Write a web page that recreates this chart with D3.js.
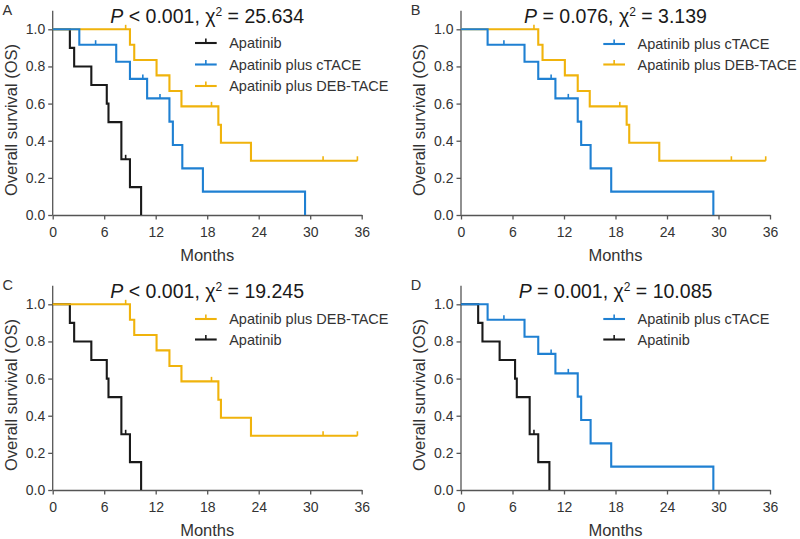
<!DOCTYPE html>
<html>
<head>
<meta charset="utf-8">
<script src="https://cdn.jsdelivr.net/npm/d3@7"></script>
<style>
  html, body { margin: 0; padding: 0; background: #fff; }
  svg { display: block; }
  text { font-family: "Liberation Sans", Arial, sans-serif; }
</style>
</head>
<body>
<svg id="chart" width="800" height="539"></svg>
<script>
// ---- Data ----
const xTicks = [0, 6, 12, 18, 24, 30, 36];
const yTicks = [0.0, 0.2, 0.4, 0.6, 0.8, 1.0];

const apatinibT = [0, 2.0, 2.5, 4.5, 6.3, 6.5, 8.0, 9.0, 10.3];
const apatinibS = [1.0, 0.9, 0.8, 0.7, 0.6, 0.5, 0.3, 0.15, 0.0];
const apatinibCensor = [8.5];

const ctaceT = [0, 3.1, 7.4, 9.0, 11.0, 13.6, 14.0, 15.1, 17.5, 29.4];
const ctaceS = [1.0, 0.917, 0.825, 0.733, 0.628, 0.503, 0.377, 0.251, 0.126, 0.0];
const ctaceCensor = [5.0, 10.5, 12.5];

const debT = [0, 9.0, 9.5, 12.1, 13.6, 15.0, 19.3, 19.6, 23.1, 35.5];
const debS = [1.0, 0.917, 0.835, 0.752, 0.668, 0.585, 0.486, 0.389, 0.292, 0.292];
const debCensor = [8.5, 18.5, 31.5, 35.5];

const seriesNames = ["Apatinib", "Apatinib plus cTACE", "Apatinib plus DEB-TACE"];
const panelLetters = ["A", "B", "C", "D"];
const panelP = ["< 0.001", "= 0.076", "< 0.001", "= 0.001"];
const panelChi = ["25.634", "3.139", "19.245", "10.085"];
const panelLegend = [[0, 1, 2], [1, 2], [2, 0], [1, 0]];

// ---- Build series ----
const colors = ["#1a1a1a", "#1f80d2", "#f0b30c"];
const series = [
  { name: seriesNames[0], t: apatinibT, s: apatinibS, c: apatinibCensor, color: colors[0] },
  { name: seriesNames[1], t: ctaceT, s: ctaceS, c: ctaceCensor, color: colors[1] },
  { name: seriesNames[2], t: debT, s: debS, c: debCensor, color: colors[2] }
];
function survAt(se, time) {
  let v = se.s[0];
  for (let i = 0; i < se.t.length; i++) if (se.t[i] <= time) v = se.s[i];
  return v;
}

const svg = d3.select("#chart");
const offsets = [[0, 0], [408.3, 0], [0, 275], [408.3, 275]];
const drawOrder = [0, 2, 1]; // black, yellow, blue on top

offsets.forEach((off, pi) => {
  const g = svg.append("g").attr("transform", `translate(${off[0]},${off[1]})`);
  const x = d3.scaleLinear().domain([0, 36]).range([52.7, 361.7]);
  const y = d3.scaleLinear().domain([0, 1]).range([215, 29.3]);

  // axes
  const xAxis = d3.axisBottom(x).tickValues(xTicks).tickSize(4.5).tickPadding(7.5).tickSizeOuter(0)
    .tickFormat(d3.format("d"));
  const yAxis = d3.axisLeft(y).tickValues(yTicks).tickSize(4.5).tickPadding(3).tickSizeOuter(0)
    .tickFormat(d3.format(".1f"));
  const gx = g.append("g").attr("transform", `translate(0,${y(0)})`).call(xAxis);
  const gy = g.append("g").attr("transform", `translate(${x(0)},0)`).call(yAxis);
  gy.select(".domain").attr("d", `M0,${y(1.1)}V${y(0)}`);
  [gx, gy].forEach(a => {
    a.selectAll(".domain, .tick line").attr("stroke", "#555").attr("stroke-width", 1.3);
    a.selectAll(".tick text").attr("fill", "#333").style("font-size", "14px")
      .style("font-family", "'Liberation Sans', Arial, sans-serif");
  });

  // axis titles
  g.append("text").attr("x", (x(0) + x(36)) / 2).attr("y", 260.5)
    .attr("text-anchor", "middle").attr("fill", "#333").style("font-size", "16.5px").text("Months");
  g.append("text").attr("transform", `translate(17,${120}) rotate(-90)`)
    .attr("text-anchor", "middle").attr("fill", "#333").style("font-size", "16.5px")
    .text("Overall survival (OS)");

  // panel letter
  g.append("text").attr("x", 2.5).attr("y", 15).attr("fill", "#333")
    .style("font-size", "14.5px").text(panelLetters[pi]);

  // title
  const tt = g.append("text").attr("x", (x(0) + x(36)) / 2).attr("y", 22.5)
    .attr("text-anchor", "middle").attr("fill", "#1a1a1a").style("font-size", "19.5px");
  tt.append("tspan").style("font-style", "italic").text("P");
  tt.append("tspan").text(" " + panelP[pi] + ", \u03C7");
  tt.append("tspan").attr("dy", -7).style("font-size", "12px").text("2");
  tt.append("tspan").attr("dy", 7).text(" = " + panelChi[pi]);

  // curves
  const present = panelLegend[pi];
  const line = d3.line().curve(d3.curveStepAfter).x(d => x(d[0])).y(d => y(d[1]));
  drawOrder.filter(k => present.includes(k)).forEach(k => {
    const se = series[k];
    const pts = se.t.map((t, i) => [t, se.s[i]]);
    g.append("path").attr("d", line(pts)).attr("fill", "none")
      .attr("stroke", se.color).attr("stroke-width", 2.1);
    g.selectAll(null).data(se.c).enter().append("line")
      .attr("x1", d => x(d)).attr("x2", d => x(d))
      .attr("y1", d => y(survAt(se, d))).attr("y2", d => y(survAt(se, d)) - 4.5)
      .attr("stroke", se.color).attr("stroke-width", 1.6);
  });

  // legend
  const rowsY = present.length === 3 ? [43, 64.5, 86] : [44, 64.5];
  present.forEach((k, ri) => {
    const se = series[k];
    const ly = rowsY[ri];
    const lx0 = x(0) + 142.3, lx1 = x(0) + 164;
    g.append("line").attr("x1", lx0).attr("x2", lx1).attr("y1", ly).attr("y2", ly)
      .attr("stroke", se.color).attr("stroke-width", 2.1);
    g.append("line").attr("x1", (lx0 + lx1) / 2).attr("x2", (lx0 + lx1) / 2)
      .attr("y1", ly).attr("y2", ly - 4.5).attr("stroke", se.color).attr("stroke-width", 1.6);
    g.append("text").attr("x", x(0) + 176.5).attr("y", ly).attr("dy", "0.35em")
      .attr("fill", "#333").style("font-size", "14.5px").text(se.name);
  });
});
</script>
</body>
</html>
